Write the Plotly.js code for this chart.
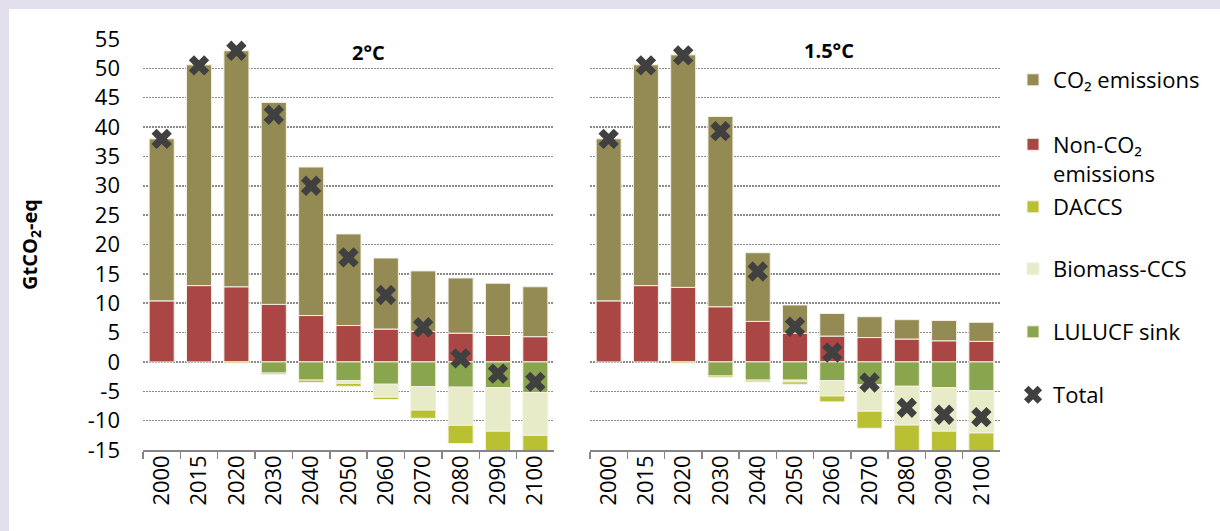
<!DOCTYPE html>
<html>
<head>
<meta charset="utf-8">
<script src="https://cdn.plot.ly/plotly-3.0.1.min.js"></script>
<style>
  html, body { margin: 0; padding: 0; background: #e4dfec; overflow: hidden; width: 1220px; height: 531px; }
  #chart { position: absolute; left: 9px; top: 9px; width: 1211px; height: 522px; background: #ffffff; }
</style>
</head>
<body>
<div id="chart"></div>
<script>
// Categories
const years = ['2000','2015','2020','2030','2040','2050','2060','2070','2080','2090','2100'];

// 2°C scenario (GtCO2-eq)
const co2_2C      = [27.6, 37.6, 40.2, 34.4, 25.3, 15.6, 12.1, 10.3, 9.4, 8.9, 8.5];
const nonco2_2C   = [10.4, 13.0, 12.8, 9.8, 7.9, 6.2, 5.6, 5.2, 4.9, 4.5, 4.3];
const lulucf_2C   = [null, null, null, -1.9, -3.1, -3.2, -3.8, -4.2, -4.3, -4.4, -5.2];
const biomass_2C  = [null, null, null, null, null, -0.45, -2.2, -4.0, -6.5, -7.4, -7.3];
const daccs_2C    = [null, null, -0.2, -0.25, -0.4, -0.5, -0.4, -1.4, -3.1, -3.7, -3.0];
const total_2C    = [38.0, 50.5, 53.0, 42.1, 30.0, 17.8, 11.4, 5.9, 0.6, -2.0, -3.4];

// 1.5°C scenario (GtCO2-eq)
const co2_15C     = [27.6, 37.6, 39.6, 32.4, 11.7, 4.8, 3.85, 3.55, 3.3, 3.45, 3.25];
const nonco2_15C  = [10.4, 13.0, 12.7, 9.4, 6.9, 4.9, 4.4, 4.15, 3.9, 3.6, 3.5];
const lulucf_15C  = [null, null, null, -2.4, -3.1, -3.1, -3.2, -3.9, -4.15, -4.4, -4.9];
const biomass_15C = [null, null, null, null, null, -0.3, -2.6, -4.5, -6.6, -7.4, -7.2];
const daccs_15C   = [null, null, -0.2, -0.25, -0.3, -0.4, -1.0, -2.9, -4.5, -3.7, -3.35];
const total_15C   = [38.0, 50.5, 52.2, 39.3, 15.4, 6.0, 1.6, -3.5, -7.8, -9.0, -9.4];

// Series names and y tick labels
const seriesNames = ['CO₂ emissions', 'Non-CO₂<br>emissions', 'DACCS', 'Biomass-CCS', 'LULUCF sink', 'Total'];
const yTickVals = [-15, -10, -5, 0, 5, 10, 15, 20, 25, 30, 35, 40, 45, 50, 55];
const yTickText = ['-15', '-10', '-5', '0', '5', '10', '15', '20', '25', '30', '35', '40', '45', '50', '55'];
const panelTitles = ['2°C', '1.5°C'];

const colors = {
  co2: '#948a54', nonco2: '#aa4643', daccs: '#b9c133', biomass: '#e8ebc8', lulucf: '#89a54e', total: '#404040'
};
const FONT = 'Open Sans, Noto Sans, sans-serif';
const barLine = { color: '#f3f1e6', width: 1 };

function panel(xa, ya, co2, nonco2, lulucf, biomass, daccs, total, showLegend) {
  return [
    { type: 'bar', x: years, y: nonco2, xaxis: xa, yaxis: ya, name: seriesNames[1], marker: { color: colors.nonco2, line: barLine }, showlegend: showLegend, legend: 'legend2', legendgroup: 'nonco2' },
    { type: 'bar', x: years, y: co2, xaxis: xa, yaxis: ya, name: seriesNames[0], marker: { color: colors.co2, line: barLine }, showlegend: showLegend, legend: 'legend', legendgroup: 'co2' },
    { type: 'bar', x: years, y: lulucf, xaxis: xa, yaxis: ya, name: seriesNames[4], marker: { color: colors.lulucf, line: barLine }, showlegend: showLegend, legend: 'legend5', legendgroup: 'lulucf' },
    { type: 'bar', x: years, y: biomass, xaxis: xa, yaxis: ya, name: seriesNames[3], marker: { color: colors.biomass, line: barLine }, showlegend: showLegend, legend: 'legend4', legendgroup: 'biomass' },
    { type: 'bar', x: years, y: daccs, xaxis: xa, yaxis: ya, name: seriesNames[2], marker: { color: colors.daccs, line: barLine }, showlegend: showLegend, legend: 'legend3', legendgroup: 'daccs' },
    { type: 'scatter', mode: 'markers', x: years, y: total, xaxis: xa, yaxis: ya, name: seriesNames[5], cliponaxis: false,
      marker: { symbol: 'x', size: 18, color: colors.total, line: { width: 0 } }, showlegend: showLegend, legend: 'legend6', legendgroup: 'total' }
  ];
}

const data = [].concat(
  panel('x', 'y', co2_2C, nonco2_2C, lulucf_2C, biomass_2C, daccs_2C, total_2C, true),
  panel('x2', 'y2', co2_15C, nonco2_15C, lulucf_15C, biomass_15C, daccs_15C, total_15C, false)
);

const xAxisCommon = {
  type: 'category', range: [-0.5, years.length - 0.5], tickson: 'boundaries', ticks: 'outside', ticklen: 7, tickcolor: '#868686', tickwidth: 1.5,
  showline: true, linecolor: '#868686', linewidth: 1.5, showgrid: false, tickangle: -90, automargin: false,
  tickfont: { family: FONT, size: 22, color: '#000' }, ticklabelstandoff: -5, fixedrange: true
};
const yAxisCommon = {
  range: [-15, 55], tickvals: yTickVals, ticktext: yTickText, showgrid: true, gridcolor: '#8a8a8a', gridwidth: 1.5, griddash: '1.5px,1.5px',
  zeroline: false, showline: false, ticks: '', fixedrange: true, automargin: false
};

function legendAt(y) {
  return { x: 1.0152, xanchor: 'left', y: y, yanchor: 'middle', bgcolor: 'rgba(0,0,0,0)', valign: 'top',
    font: { family: FONT, size: 22, color: '#000' }, itemclick: false, itemdoubleclick: false };
}

const layout = {
  width: 1211, height: 522, autosize: false,
  margin: { l: 134, r: 220, t: 30, b: 81, autoexpand: false },
  paper_bgcolor: '#ffffff', plot_bgcolor: '#ffffff',
  barmode: 'relative', bargap: 0.33,
  font: { family: FONT, color: '#000' },
  xaxis: Object.assign({}, xAxisCommon, { domain: [0, 0.4796], anchor: 'y' }),
  xaxis2: Object.assign({}, xAxisCommon, { domain: [0.5216, 1], anchor: 'y2' }),
  yaxis: Object.assign({}, yAxisCommon, {
    anchor: 'x', showticklabels: true, tickfont: { family: FONT, size: 22, color: '#000' }, ticklabelstandoff: 22,
    title: { text: '<b>GtCO<sub>2</sub>-eq</b>', font: { family: FONT, size: 20, color: '#000' }, standoff: 44 }
  }),
  yaxis2: Object.assign({}, yAxisCommon, { anchor: 'x2', showticklabels: false, matches: 'y' }),
  legend: legendAt(0.9002),
  legend2: legendAt(0.708),
  legend3: legendAt(0.5912),
  legend4: legendAt(0.4404),
  legend5: legendAt(0.2871),
  legend6: legendAt(0.1338),
  annotations: [
    { text: '<b>' + panelTitles[0] + '</b>', xref: 'paper', yref: 'paper', x: 0.2637, y: 0.966, xanchor: 'center', yanchor: 'middle', showarrow: false, font: { family: FONT, size: 20, color: '#000' } },
    { text: '<b>' + panelTitles[1] + '</b>', xref: 'paper', yref: 'paper', x: 0.8005, y: 0.9732, xanchor: 'center', yanchor: 'middle', showarrow: false, font: { family: FONT, size: 20, color: '#000' } }
  ],
  showlegend: true
};

Plotly.newPlot('chart', data, layout, { displayModeBar: false, staticPlot: true });
</script>
</body>
</html>
